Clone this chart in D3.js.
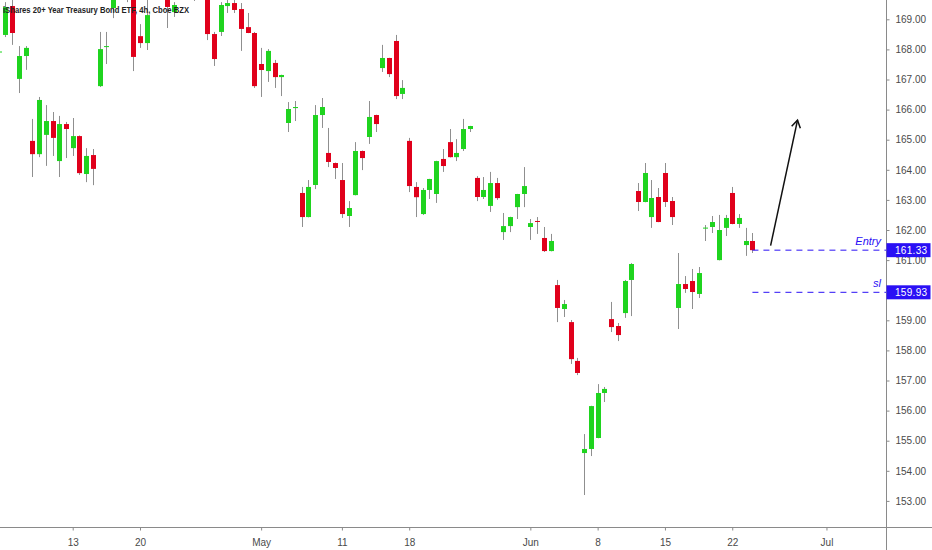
<!DOCTYPE html>
<html>
<head>
<meta charset="utf-8">
<script src="https://cdn.jsdelivr.net/npm/d3@7"></script>
<style>
  html, body { margin: 0; padding: 0; background: #ffffff; }
  svg { display: block; }
</style>
</head>
<body>
<div id="chart"></div>
<script>
// ---- DATA (4h candles, index 0 = first partially visible candle) ----
const opens = [
  167.90,168.48,169.44,167.02,167.78,164.96,164.52,165.16,165.62,164.29,
  165.52,164.72,165.12,163.86,164.49,166.78,168.08,169.375,169.75,170.30,
  169.74,168.44,168.21,169.70,170.10,169.80,169.24,169.70,170.05,169.75,
  170.00,169.71,168.51,168.58,169.44,169.54,169.34,168.74,168.545,167.515,
  167.28,167.55,167.08,165.555,166.05,163.23,162.43,163.495,165.82,164.56,
  164.225,163.66,162.465,163.16,164.625,165.09,165.82,167.38,167.715,168.28,
  166.52,164.96,163.43,162.53,163.33,163.196,164.36,164.92,164.42,164.69,
  165.355,163.73,163.096,162.80,163.56,161.93,162.13,162.76,163.196,162.10,
  162.30,161.735,161.30,160.17,159.375,158.94,157.65,154.59,154.725,155.09,
  156.585,159.04,158.81,159.24,160.34,163.295,162.93,162.43,163.096,163.894,
  162.963,159.41,160.205,160.305,159.875,162.07,162.10,161.00,162.07,163.23,
  162.20,161.50,161.635
];
const highs = [
  167.96,169.57,169.64,168.11,168.11,165.69,166.42,166.15,165.92,165.79,
  165.59,165.72,165.14,164.72,164.69,168.58,168.58,169.81,170.40,170.50,
  169.90,168.84,169.64,170.20,170.30,170.00,169.57,170.15,170.20,170.10,
  170.10,169.85,168.58,169.57,169.64,169.64,169.54,169.21,168.58,168.05,
  168.01,167.65,167.16,166.25,166.285,163.43,163.66,166.15,166.385,165.39,
  164.24,164.225,162.96,164.92,164.64,166.285,165.83,168.15,167.72,168.48,
  166.98,165.06,163.59,163.395,163.70,164.30,164.69,165.355,165.02,165.69,
  165.46,163.79,163.76,163.93,163.73,162.565,162.44,163.20,164.09,162.365,
  162.43,162.10,161.87,160.34,159.675,159.01,157.75,155.22,156.16,156.88,
  156.785,159.61,158.91,160.34,160.90,163.56,164.225,163.66,163.395,164.225,
  163.096,161.235,160.47,160.705,160.77,162.165,162.465,162.50,162.50,163.43,
  162.53,162.07,161.90
];
const lows = [
  167.86,168.41,168.15,166.55,167.32,163.76,164.42,164.13,164.46,163.76,
  164.39,164.46,163.83,163.59,163.49,166.75,167.515,169.04,169.70,169.57,
  167.28,168.05,167.98,169.66,169.70,168.71,169.08,169.66,169.68,169.61,
  169.70,168.31,167.45,168.445,169.21,169.21,167.95,168.54,166.72,166.42,
  166.92,166.72,166.45,165.255,165.62,162.10,162.42,163.36,165.39,164.09,
  163.695,162.40,162.10,163.15,163.99,164.86,165.255,167.25,167.08,166.35,
  166.35,163.26,162.43,162.50,163.03,162.90,163.93,164.41,164.29,164.625,
  165.255,162.96,163.03,162.60,163.00,161.67,161.93,162.365,162.76,161.67,
  161.87,161.27,161.29,158.94,159.11,157.55,157.18,153.195,154.49,155.08,
  156.285,158.61,158.31,159.08,159.14,162.63,162.92,162.07,162.26,162.765,
  162.166,158.71,159.91,159.375,159.74,161.635,161.90,160.99,161.80,162.19,
  162.07,161.14,161.235
];
const closes = [
  167.93,169.41,168.545,167.78,168.05,164.52,166.32,165.62,165.06,165.52,
  165.355,165.12,163.89,164.46,164.03,168.01,168.11,169.71,170.20,169.90,
  167.75,168.21,169.14,170.00,169.85,169.41,169.475,170.00,169.80,169.95,
  169.80,168.51,167.68,169.475,169.54,169.31,168.68,168.545,166.78,167.315,
  167.95,167.08,167.15,166.02,166.086,162.43,163.43,165.82,166.086,164.26,
  164.06,162.53,162.73,164.625,164.39,165.755,165.52,167.715,167.18,166.45,
  166.72,163.46,163.09,163.33,163.695,164.29,164.125,164.42,164.56,165.355,
  165.455,163.096,163.33,163.56,163.06,162.13,162.43,163.196,163.46,162.23,
  162.27,161.30,161.635,159.41,159.54,157.71,157.25,154.725,156.15,156.585,
  156.72,158.775,158.51,160.305,160.87,162.93,163.894,163.063,162.265,162.93,
  162.43,160.205,160.04,159.94,160.57,162.08,162.265,162.00,162.40,162.20,
  162.40,161.635,161.33
];
const xTickIndex  = [11, 21, 39, 51, 61, 79, 89, 99, 109, 123];
const xTickLabels = ["13", "20", "May", "11", "18", "Jun", "8", "15", "22", "Jul"];
// 160.00 is hidden behind the "sl" price label in the original
const yTickValues = [153,154,155,156,157,158,159,161,162,163,164,165,166,167,168,169];
const title = "iShares 20+ Year Treasury Bond ETF, 4h, Cboe BZX";
const levelNames  = ["Entry", "sl"];
const levelPrices = [161.33, 159.93];
const levelStart  = 112;            // candle index where the dashed levels start
const arrowFrom = [114.7, 161.48];  // [candle index, price]
const arrowTo   = [118.7, 165.65];

// ---- LAYOUT ----
const W = 932, H = 550;
const plotRight = 886.5, plotBottom = 527.5;
const GREEN = "#1fd41f", RED = "#e0001b", WICK = "#8f8f8f";
const BLUE = "#2a10f5";

const svg = d3.select("#chart").append("svg")
  .attr("width", W).attr("height", H)
  .style("font-family", "'Liberation Sans', Arial, sans-serif");

svg.append("rect").attr("width", W).attr("height", H).attr("fill", "#ffffff");

const x = d3.scaleLinear().domain([0, 123]).range([-1.33, 826.46]);
const y = d3.scaleLinear().domain([153, 169]).range([500.9, 19.3]);

svg.append("defs").append("clipPath").attr("id", "plotclip")
  .append("rect").attr("x", 0).attr("y", 0).attr("width", plotRight).attr("height", plotBottom);

const candles = opens.map((o, i) => ({ i, o, h: highs[i], l: lows[i], c: closes[i] }));

const plot = svg.append("g").attr("clip-path", "url(#plotclip)");

plot.selectAll("line.wick").data(candles).join("line")
  .attr("class", "wick")
  .attr("x1", d => Math.round(x(d.i)) + 0.5).attr("x2", d => Math.round(x(d.i)) + 0.5)
  .attr("y1", d => y(d.h)).attr("y2", d => y(d.l))
  .attr("stroke", WICK).attr("stroke-width", 1);

const bw = 5;
plot.selectAll("rect.body").data(candles).join("rect")
  .attr("class", "body")
  .attr("x", d => Math.round(x(d.i)) + 0.5 - bw / 2)
  .attr("y", d => y(Math.max(d.o, d.c)))
  .attr("width", bw)
  .attr("height", d => Math.max(1, Math.abs(y(d.o) - y(d.c))))
  .attr("fill", d => d.c >= d.o ? GREEN : RED);

// Levels (dashed lines)
const lvlX0 = x(levelStart);
plot.selectAll("line.level").data(levelPrices).join("line")
  .attr("class", "level")
  .attr("x1", lvlX0).attr("x2", plotRight)
  .attr("y1", d => y(d)).attr("y2", d => y(d))
  .attr("stroke", BLUE).attr("stroke-width", 1)
  .attr("stroke-dasharray", "6,5");

plot.selectAll("text.levelname").data(levelNames).join("text")
  .attr("class", "levelname")
  .attr("x", 881).attr("y", (d, i) => y(levelPrices[i]) - 5)
  .attr("text-anchor", "end")
  .attr("font-size", 11).attr("font-style", "italic")
  .attr("fill", BLUE)
  .text(d => d);

// Arrow
const ax1 = x(arrowFrom[0]), ay1 = y(arrowFrom[1]);
const ax2 = x(arrowTo[0]), ay2 = y(arrowTo[1]);
plot.append("line")
  .attr("x1", ax1).attr("y1", ay1).attr("x2", ax2).attr("y2", ay2)
  .attr("stroke", "#111").attr("stroke-width", 1.5);
{
  const ang = Math.atan2(ay2 - ay1, ax2 - ax1);
  const len = 8.5, spread = 0.55;
  const p1 = [ax2 - len * Math.cos(ang - spread), ay2 - len * Math.sin(ang - spread)];
  const p2 = [ax2 - len * Math.cos(ang + spread), ay2 - len * Math.sin(ang + spread)];
  plot.append("path")
    .attr("d", `M${p1[0]},${p1[1]}L${ax2},${ay2}L${p2[0]},${p2[1]}`)
    .attr("fill", "none").attr("stroke", "#111").attr("stroke-width", 1.5);
}

// Title
svg.append("text")
  .attr("x", 3).attr("y", 12.5)
  .attr("font-size", 9.5).attr("font-weight", "bold")
  .attr("fill", "#222")
  .attr("textLength", 186).attr("lengthAdjust", "spacingAndGlyphs")
  .text(title);

// Axes
const AXIS_COLOR = "#8a8a8a", LABEL_COLOR = "#4a4a4a";

const yAxis = d3.axisRight(y).tickValues(yTickValues)
  .tickFormat(d3.format(".2f")).tickSize(3).tickPadding(6);
const gy = svg.append("g").attr("transform", `translate(${plotRight},0)`).call(yAxis);
gy.select(".domain").remove();
gy.selectAll(".tick line").attr("stroke", AXIS_COLOR);
gy.selectAll(".tick text").attr("fill", LABEL_COLOR).attr("font-size", 10)
  .attr("font-family", "'Liberation Sans', Arial, sans-serif");

const xAxis = d3.axisBottom(x).tickValues(xTickIndex)
  .tickFormat((d, i) => xTickLabels[i]).tickSize(3).tickPadding(8);
const gx = svg.append("g").attr("transform", `translate(0,${plotBottom})`).call(xAxis);
gx.select(".domain").remove();
gx.selectAll(".tick line").attr("stroke", AXIS_COLOR);
gx.selectAll(".tick text").attr("fill", LABEL_COLOR).attr("font-size", 10)
  .attr("font-family", "'Liberation Sans', Arial, sans-serif");

svg.append("line").attr("x1", plotRight).attr("x2", plotRight).attr("y1", 0).attr("y2", H)
  .attr("stroke", AXIS_COLOR).attr("stroke-width", 1);
svg.append("line").attr("x1", 0).attr("x2", W).attr("y1", plotBottom).attr("y2", plotBottom)
  .attr("stroke", AXIS_COLOR).attr("stroke-width", 1);

// Price label boxes for levels
const boxes = svg.selectAll("g.pricebox").data(levelPrices).join("g").attr("class", "pricebox")
  .attr("transform", d => `translate(${plotRight},${y(d)})`);
boxes.append("rect").attr("x", 0).attr("y", -7).attr("width", 44).attr("height", 14)
  .attr("fill", BLUE);
boxes.append("text").attr("x", 8.5).attr("y", 3.8)
  .attr("font-size", 10).attr("fill", "#ffffff")
  .attr("letter-spacing", 0.3)
  .text(d => d3.format(".2f")(d));
</script>
</body>
</html>
